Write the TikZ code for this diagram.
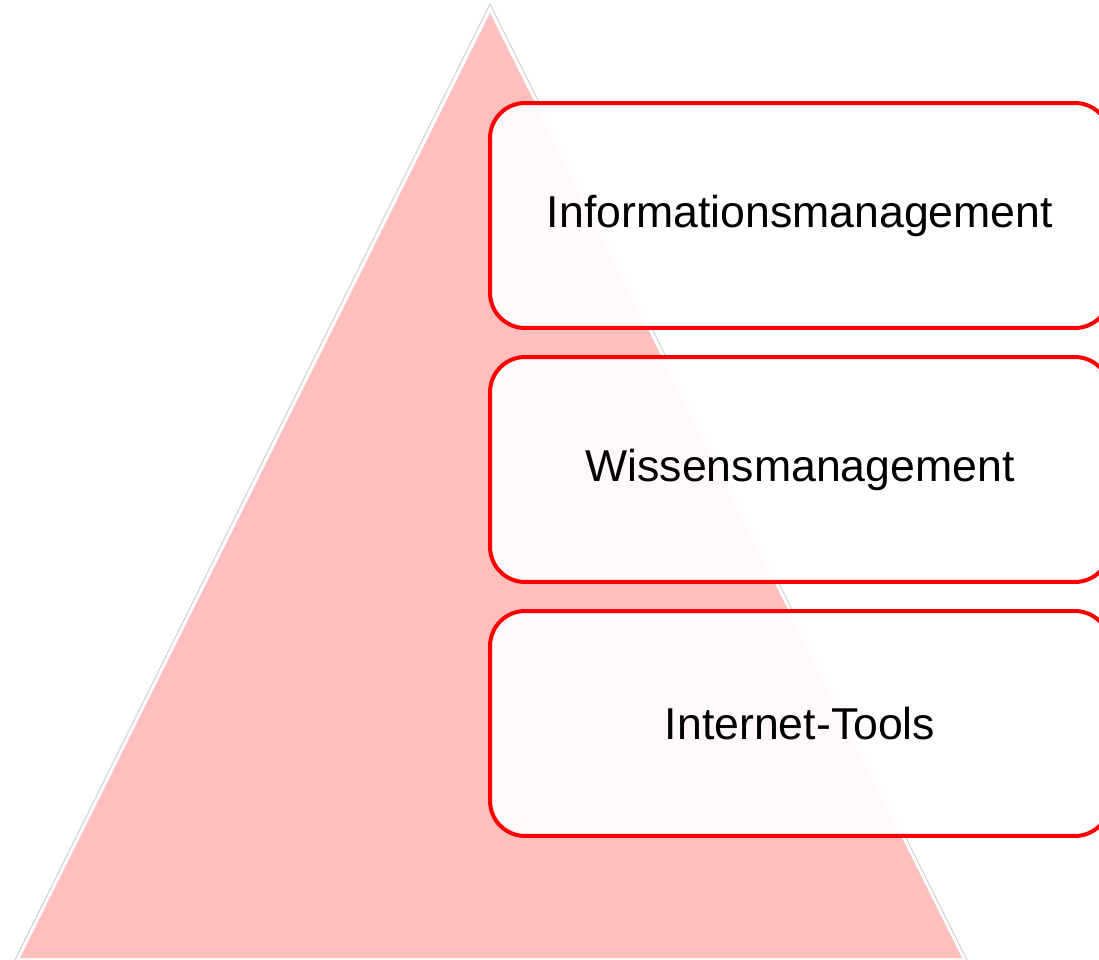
\documentclass[tikz,border=0pt]{standalone}
\usepackage{fontspec}
\setmainfont{Liberation Sans}

\begin{document}
\begin{tikzpicture}[
    x=0.02cm, y=-0.02cm,
    stage/.style={rectangle, rounded corners=0.7cm, draw=red, line width=0.08cm,
        fill=white, fill opacity=0.92, text opacity=1,
        minimum width=12.4cm, minimum height=4.5cm, inner sep=0pt,
        font=\fontsize{25.4}{30}\selectfont},
    pyramid/.style={fill=red!25, draw=none}
]
    \clip (0,0) rectangle (1099,960);
    \fill[white] (0,0) rectangle (1099,960);
    % triangle with white rim and grey outline
    \draw[gray!35, fill=white, line width=0.6pt] (490,4) -- (12,966) -- (970,966) -- cycle;
    \fill[pyramid] (490,13) -- (20,958) -- (962,958) -- cycle;
    \node[stage] (info) at (800,215.5) {Informationsmanagement};
    \node[stage] (wissen) at (800,469.5) {Wissensmanagement};
    \node[stage] (tools) at (800,723.5) {Internet-Tools};
\end{tikzpicture}
\end{document}
